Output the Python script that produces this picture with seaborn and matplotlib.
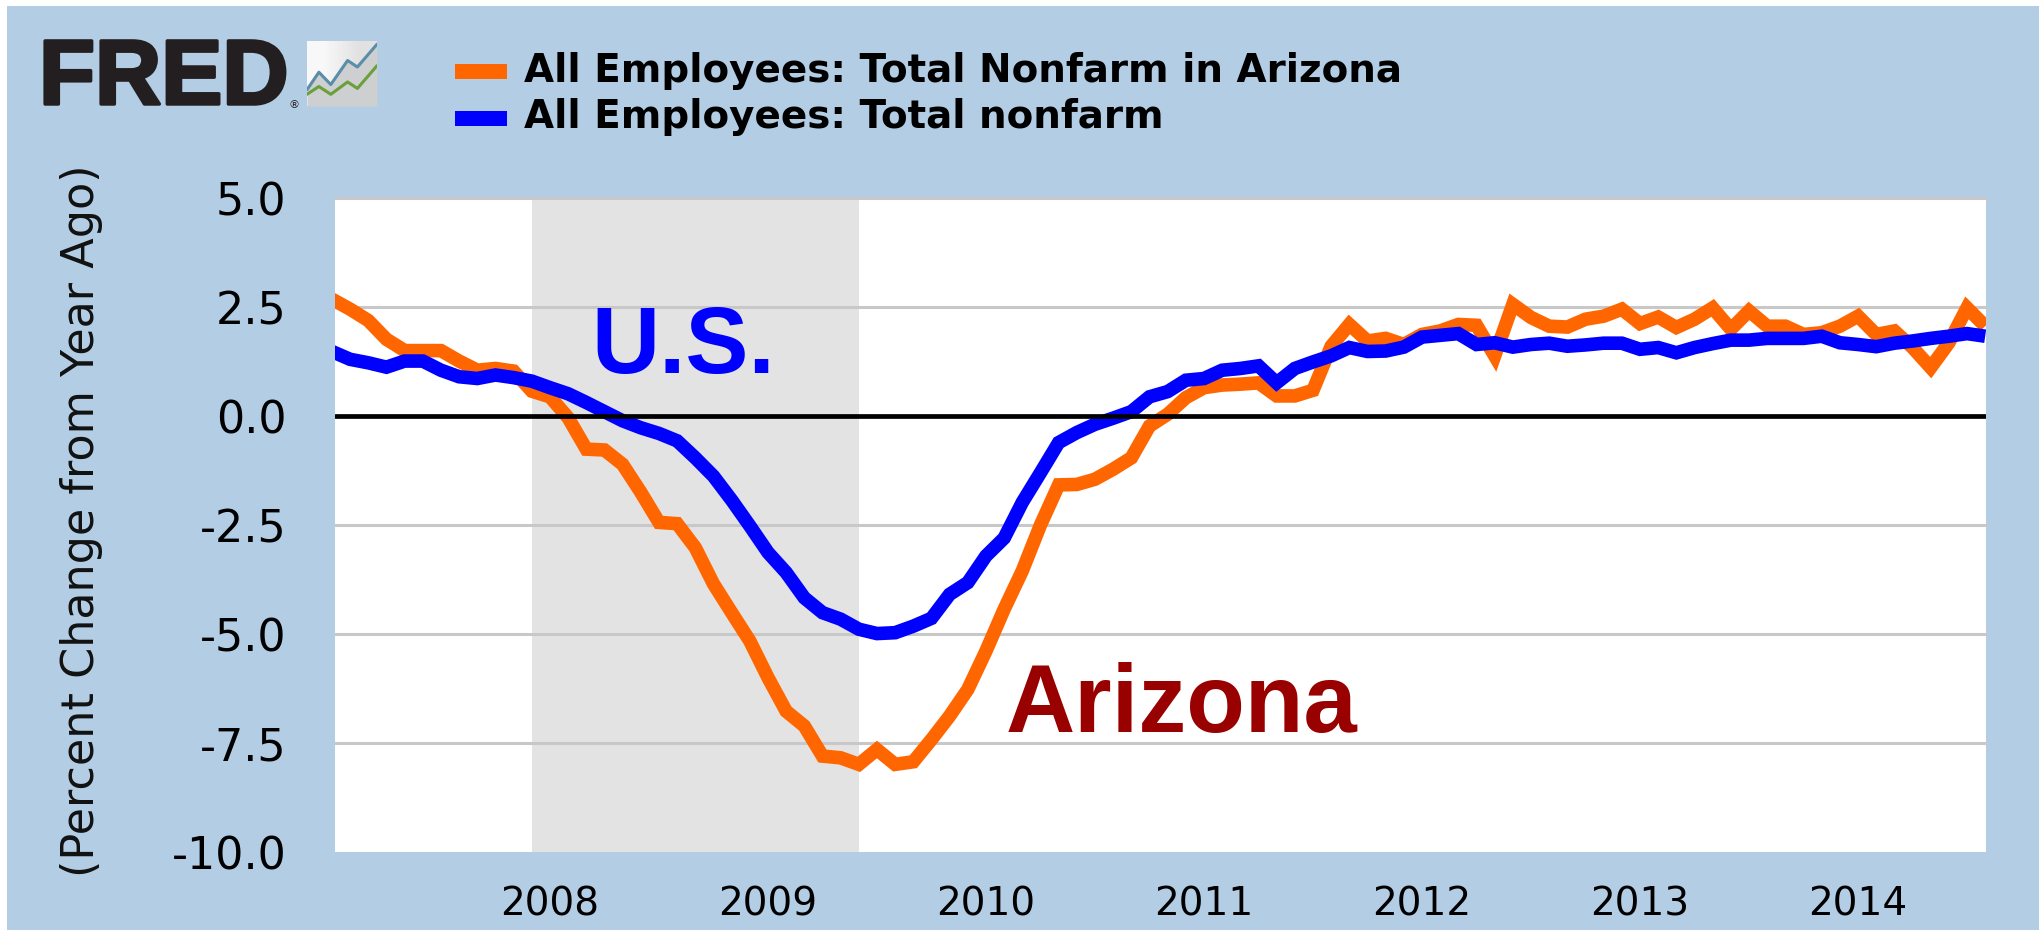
import numpy as np
import pandas as pd
import matplotlib
matplotlib.use('Agg')
import matplotlib.pyplot as plt
import matplotlib.patheffects as pe
from matplotlib.patches import Rectangle
import seaborn as sns

# --- Dados (variacao % anual, mensal, jan/2007 a ago/2014) ---
arizona = [2.68, 2.45, 2.19, 1.76, 1.50, 1.50, 1.50, 1.26, 1.05, 1.09, 1.03, 0.57,
           0.44, -0.04, -0.76, -0.78, -1.11, -1.75, -2.44, -2.47, -3.02, -3.85, -4.51, -5.16,
           -6.00, -6.77, -7.11, -7.80, -7.84, -7.99, -7.65, -7.99, -7.93, -7.42, -6.88, -6.27,
           -5.39, -4.43, -3.55, -2.50, -1.58, -1.57, -1.45, -1.22, -0.96, -0.23, 0.04, 0.42,
           0.65, 0.71, 0.73, 0.76, 0.46, 0.46, 0.59, 1.60, 2.10, 1.72, 1.78, 1.64,
           1.87, 1.95, 2.10, 2.08, 1.38, 2.56, 2.26, 2.06, 2.04, 2.22, 2.29, 2.45,
           2.12, 2.27, 2.03, 2.22, 2.48, 1.99, 2.41, 2.06, 2.06, 1.87, 1.91, 2.06,
           2.29, 1.87, 1.95, 1.57, 1.11, 1.68, 2.48, 2.06]
us = [1.48, 1.30, 1.22, 1.12, 1.26, 1.26, 1.05, 0.90, 0.86, 0.94, 0.88, 0.80,
      0.65, 0.51, 0.31, 0.10, -0.11, -0.27, -0.40, -0.57, -0.96, -1.38, -1.93, -2.52,
      -3.13, -3.59, -4.17, -4.51, -4.66, -4.89, -4.99, -4.97, -4.82, -4.64, -4.09, -3.82,
      -3.21, -2.80, -1.98, -1.30, -0.61, -0.38, -0.19, -0.05, 0.10, 0.44, 0.56, 0.82,
      0.86, 1.05, 1.09, 1.15, 0.76, 1.09, 1.24, 1.38, 1.57, 1.48, 1.49, 1.58,
      1.81, 1.85, 1.89, 1.64, 1.68, 1.58, 1.64, 1.67, 1.60, 1.63, 1.67, 1.67,
      1.53, 1.57, 1.45, 1.57, 1.66, 1.74, 1.74, 1.78, 1.78, 1.78, 1.83, 1.68,
      1.64, 1.59, 1.67, 1.72, 1.78, 1.83, 1.89, 1.83]
y_ticks = [5.0, 2.5, 0.0, -2.5, -5.0, -7.5, -10.0]
x_years = [2008, 2009, 2010, 2011, 2012, 2013, 2014]
recession = (2007 + 11 / 12, 2009 + 5 / 12)
name_az = 'All Employees: Total Nonfarm in Arizona'
name_us = 'All Employees: Total nonfarm'

# logo: linhas do icone
logo_x = [0, 0.17, 0.34, 0.58, 0.72, 1]
logo_blue = [0.25, 0.52, 0.33, 0.70, 0.60, 0.95]
logo_green = [0.18, 0.30, 0.18, 0.37, 0.27, 0.62]

# --- Configuracoes ---
W, H = 2039, 930
bg = '#B3CDE5'
orange = '#FF6600'
blue = '#0000FF'

months = 2007 + np.arange(len(arizona)) / 12
df = pd.DataFrame({
    'ano': np.concatenate([months, months]),
    'valor': arizona + us,
    'serie': [name_az] * len(arizona) + [name_us] * len(us),
})

sns.set_theme(style='white')
plt.rcParams['font.family'] = ['DejaVu Sans']

fig = plt.figure(figsize=(W / 100, H / 100), dpi=100, facecolor='white')
fig.patches.append(Rectangle((7 / W, 0), 1 - 7 / W, 1 - 6 / H, transform=fig.transFigure,
                             facecolor=bg, edgecolor='none', zorder=-10))

ax = fig.add_axes([335 / W, 1 - 852 / H, (1986 - 335) / W, (852 - 198) / H])
ax.set_facecolor('white')
ax.axvspan(recession[0], recession[1], color='#E3E3E3', lw=0, zorder=0)
for v in y_ticks:
    if v not in (0.0, -10.0):
        ax.axhline(v, color='#C8C8C8', lw=2.2, zorder=1, clip_on=False)

sns.lineplot(data=df, x='ano', y='valor', hue='serie', palette=[orange, blue],
             linewidth=9.8, ax=ax, zorder=3, legend=False,
             errorbar=None, solid_joinstyle='miter', solid_capstyle='butt')
ax.axhline(0, color='black', lw=3.4, zorder=4)

ax.set_xlim(2007.014, 2014.587)
ax.set_ylim(-10, 5)
ax.set_yticks(y_ticks)
ax.set_yticklabels([f'{v:.1f}' for v in y_ticks], fontsize=32, color='black')
ax.set_xticks(x_years)
ax.set_xticklabels([str(y) for y in x_years], fontsize=28, color='black')
ax.tick_params(axis='x', length=20, width=1.2, color='#C3D5E8', pad=4)
ax.tick_params(axis='y', length=0, pad=35)
ax.set_xlabel(None)
ax.set_ylabel(None)
sns.despine(ax=ax, left=True, bottom=True, right=True, top=True)

# --- Anotacoes ---
ax.text(2008.19, 0.99, 'U.S.', color=blue, fontsize=68, fontweight='bold',
        family='Liberation Sans', zorder=5)
ax.text(2010.09, -7.24, 'Arizona', color='#990000', fontsize=69, fontweight='bold',
        family='Liberation Sans', zorder=5)

fig.text(82 / W, 1 - 521 / H, '(Percent Change from Year Ago)', rotation=90, fontsize=32,
         ha='center', va='center', color='#111111')

# --- Legenda ---
for label, color, yc in [(name_az, orange, 72), (name_us, blue, 118)]:
    fig.patches.append(Rectangle((455 / W, 1 - (yc + 7.5) / H), 52 / W, 15 / H,
                                 transform=fig.transFigure, facecolor=color, edgecolor='none'))
    fig.text(524 / W, 1 - (yc - 1) / H, label, fontsize=28, fontweight='bold', color='black',
             ha='left', va='center')

# --- Logo FRED ---
fred = fig.text(39 / W, 1 - 104 / H, 'FRED', fontsize=66, fontweight='bold', color='#231F20',
                family='Liberation Sans', ha='left', va='baseline')
fred.set_path_effects([pe.withStroke(linewidth=2.5, foreground='#231F20')])
fig.text(294 / W, 1 - 108 / H, '®', fontsize=8, color='#231F20', ha='center', va='baseline')

ax_logo = fig.add_axes([307 / W, 1 - 106 / H, 70 / W, 65 / H])
ax_logo.imshow([[0.97, 0.88]], cmap='gray', vmin=0, vmax=1, extent=(0, 1, 0, 1),
               aspect='auto', interpolation='bilinear')
ax_logo.fill_between(logo_x, 0, logo_blue, color='#CDCFD0', lw=0)
sns.lineplot(x=logo_x, y=logo_blue, color='#5B8DA8', linewidth=2.2, ax=ax_logo, errorbar=None)
sns.lineplot(x=logo_x, y=logo_green, color='#6AA03C', linewidth=2.2, ax=ax_logo, errorbar=None)
ax_logo.set_xlim(0, 1)
ax_logo.set_ylim(0, 1)
ax_logo.axis('off')

fig.savefig('out.png', dpi=100, facecolor='white')
